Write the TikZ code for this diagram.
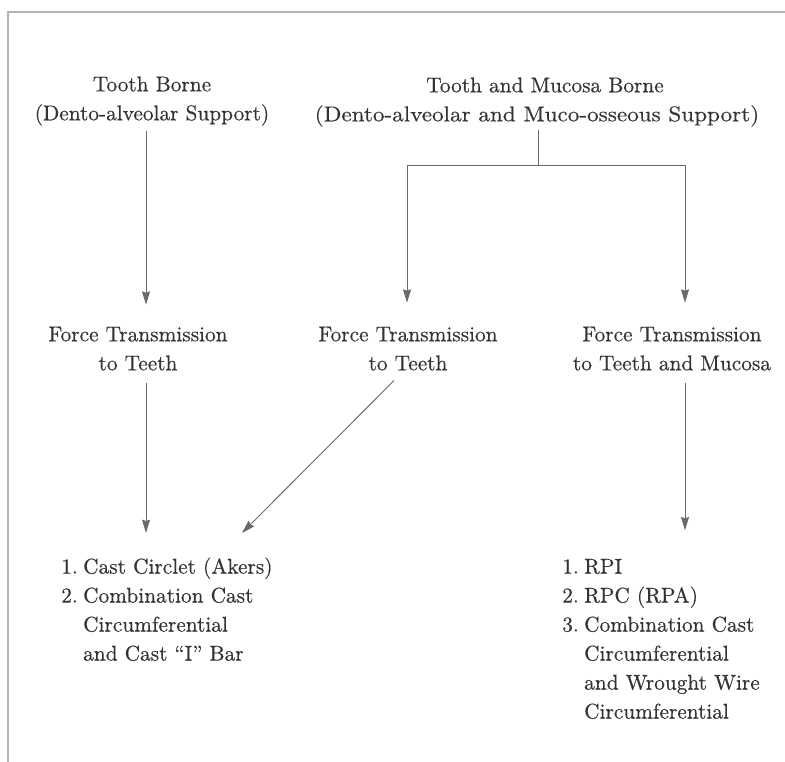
\documentclass[tikz,border=0pt]{standalone}
\usepackage{fontspec}
\setmainfont{lmroman10-regular.otf}[FakeBold=0.45]
\newfontfamily\widefont{lmroman10-regular.otf}[FakeStretch=1.085,FakeBold=0.45]
\usetikzlibrary{arrows.meta,calc}
\definecolor{txtc}{HTML}{333333}
\definecolor{linec}{HTML}{6A6A6A}
\definecolor{framec}{HTML}{B4B4B4}
\begin{document}
\begin{tikzpicture}[x=0.75pt,y=-0.75pt,
  txt/.style={inner sep=0pt,text=txtc,font=\fontsize{16}{21.75}\selectfont},
  ln/.style={draw=linec,line width=0.7pt},
  arr/.style={ln,-{Stealth[length=10pt,width=6pt,inset=1pt]}}]
\useasboundingbox (0,0) rectangle (785,762);
\draw[framec,line width=1.2pt] (785,12) -- (8,12) -- (8,762);

\node[txt,anchor=north] (tb) at (152,70.7) {\begin{tabular}{@{}c@{}}Tooth Borne\\(Dento-alveolar Support)\end{tabular}};
\node[txt,anchor=north] (tm) at (537,71.7) {\begin{tabular}{@{}c@{}}\hspace*{12pt}Tooth and Mucosa Borne\\{\widefont(Dento-alveolar and Muco-osseous Support)}\end{tabular}};
\node[txt,anchor=north] (ftl) at (138,320.7) {\begin{tabular}{@{}c@{}}Force Transmission\\to Teeth\end{tabular}};
\node[txt,anchor=north] (ftm) at (408,320.7) {\begin{tabular}{@{}c@{}}Force Transmission\\to Teeth\end{tabular}};
\node[txt,anchor=north] (ftr) at (672,320.7) {\begin{tabular}{@{}c@{}}Force Transmission\\to Teeth and Mucosa\end{tabular}};
\node[txt,anchor=north west] (lsL) at (61,553) {\begin{tabular}{@{}l@{\hspace{4pt}}l@{}}1. & Cast Circlet (Akers)\\2. & Combination Cast\\ & Circumferential\\ & and Cast ``I'' Bar\end{tabular}};
\node[txt,anchor=north west] (lsR) at (562,553) {\begin{tabular}{@{}l@{\hspace{4pt}}l@{}}1. & RPI\\2. & RPC (RPA)\\3. & Combination Cast\\ & Circumferential\\ & and Wrought Wire\\ & Circumferential\end{tabular}};

\coordinate (cL) at (146,0);
\coordinate (cR) at (685,0);
\coordinate (jC) at (538,165);
\coordinate (jL) at (407,165);
\coordinate (jR) at (685,165);

\draw[ln] (tm.south -| jC) -- (jC);
\draw[ln] (jL) -- (jR);
\draw[arr,shorten >=13.5pt] (jL) -- (ftm.north -| jL);
\draw[arr,shorten >=13.5pt] (jR) -- (ftr.north -| jR);
\draw[arr,shorten <=1pt,shorten >=12pt] (tb.south -| cL) -- (ftl.north -| cL);
\draw[arr,shorten <=3pt,shorten >=15pt] (ftl.south -| cL) -- (lsL.north -| cL);
\draw[arr] ($(ftm.south)+(-14,1.3)$) -- ($(lsL.north west)+(181,-20)$);
\draw[arr,shorten <=3pt,shorten >=17pt] (ftr.south -| cR) -- (lsR.north -| cR);
\end{tikzpicture}
\end{document}
